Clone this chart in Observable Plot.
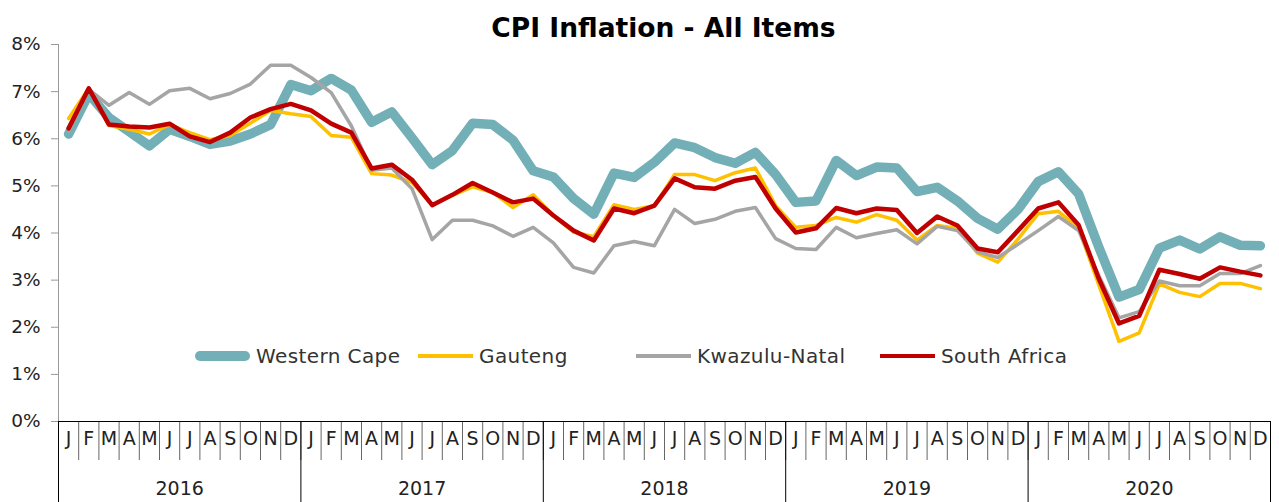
<!DOCTYPE html>
<html><head><meta charset="utf-8">
<script src="https://cdn.jsdelivr.net/npm/d3@7"></script>
<script src="https://cdn.jsdelivr.net/npm/@observablehq/plot@0.6"></script>
<style>
body{margin:0;background:#fff;}
#wrap{position:relative;width:1279px;height:502px;font-family:"DejaVu Sans",sans-serif;color:#222;}
#title{position:absolute;top:12px;left:24px;width:1279px;text-align:center;font-weight:bold;font-size:26.5px;line-height:32px;color:#000;}
#chart{position:absolute;top:0;left:0;}
.leg{position:absolute;top:343px;height:26px;display:flex;align-items:center;font-size:20px;letter-spacing:0.4px;color:#333;white-space:nowrap;}
.sw{display:inline-block;width:55px;margin-right:6px;}
</style></head><body>
<div id="wrap"><div id="chart"></div><div id="title">CPI Inflation - All Items</div></div>
<script>
const years = [2016, 2017, 2018, 2019, 2020];
const monthLetters = ["J","F","M","A","M","J","J","A","S","O","N","D"];
const yTicks = [0, 1, 2, 3, 4, 5, 6, 7, 8];

const seriesNames = ["Western Cape", "Gauteng", "Kwazulu-Natal", "South Africa"];
const seriesColors = ["#72AFB6", "#FFC000", "#A5A5A5", "#C00000"];
const seriesWidths = [9.5, 3.5, 3.5, 4.5];
const legendLeft = [195, 418, 636, 880];

const westernCape = [
  6.10, 6.95, 6.45, 6.15, 5.85, 6.20, 6.05, 5.88, 5.95, 6.10, 6.30, 7.15,
  7.02, 7.28, 7.03, 6.35, 6.57, 6.02, 5.45, 5.75, 6.33, 6.30, 5.97, 5.32,
  5.19, 4.73, 4.40, 5.27, 5.18, 5.50, 5.91, 5.81, 5.60, 5.48, 5.71, 5.24,
  4.65, 4.68, 5.54, 5.22, 5.40, 5.38, 4.88, 4.97, 4.68, 4.31, 4.08, 4.50,
  5.09, 5.30, 4.83, 3.70, 2.64, 2.80, 3.68, 3.85, 3.66, 3.92, 3.74, 3.73
];
const gauteng = [
  6.43, 7.07, 6.28, 6.20, 6.10, 6.30, 6.13, 5.98, 6.07, 6.33, 6.60, 6.53,
  6.47, 6.07, 6.03, 5.26, 5.23, 5.07, 4.60, 4.80, 4.98, 4.86, 4.54, 4.81,
  4.37, 4.02, 3.92, 4.60, 4.50, 4.58, 5.24, 5.24, 5.11, 5.28, 5.38, 4.58,
  4.12, 4.16, 4.33, 4.23, 4.39, 4.27, 3.85, 4.16, 4.10, 3.57, 3.38, 3.87,
  4.41, 4.46, 4.10, 2.90, 1.70, 1.88, 2.92, 2.74, 2.65, 2.93, 2.93, 2.82
];
const kwazuluNatal = [
  6.15, 7.05, 6.71, 6.98, 6.73, 7.02, 7.07, 6.85, 6.96, 7.16, 7.56, 7.56,
  7.30, 6.98, 6.27, 5.33, 5.38, 4.94, 3.86, 4.27, 4.27, 4.15, 3.93, 4.12,
  3.79, 3.27, 3.15, 3.73, 3.82, 3.73, 4.50, 4.20, 4.29, 4.46, 4.54, 3.88,
  3.67, 3.65, 4.12, 3.90, 3.99, 4.07, 3.77, 4.14, 4.05, 3.60, 3.48, 3.76,
  4.05, 4.35, 4.05, 3.10, 2.20, 2.33, 2.98, 2.88, 2.88, 3.14, 3.14, 3.31
];
const southAfrica = [
  6.22, 7.07, 6.30, 6.26, 6.24, 6.32, 6.05, 5.93, 6.13, 6.45, 6.63, 6.74,
  6.60, 6.32, 6.13, 5.37, 5.45, 5.13, 4.59, 4.81, 5.06, 4.86, 4.65, 4.73,
  4.37, 4.05, 3.84, 4.52, 4.42, 4.58, 5.16, 4.97, 4.94, 5.11, 5.19, 4.52,
  4.01, 4.10, 4.53, 4.42, 4.52, 4.49, 4.00, 4.35, 4.16, 3.67, 3.59, 4.05,
  4.52, 4.65, 4.17, 3.03, 2.08, 2.24, 3.22, 3.13, 3.03, 3.27, 3.18, 3.10
];
const seriesValues = [westernCape, gauteng, kwazuluNatal, southAfrica];

const nMonths = years.length * 12;
const idx = d3.range(nMonths);
const monthBounds = d3.range(nMonths + 1).map(i => i - 0.5);
const yearBounds = d3.range(years.length + 1).map(k => k * 12 - 0.5);
const yearCenters = years.map((y, k) => k * 12 + 5.5);

const lineMarks = seriesValues.map((vals, s) =>
  Plot.line(idx.map(i => ({i, v: vals[i]})), {
    x: "i", y: "v", stroke: seriesColors[s], strokeWidth: seriesWidths[s],
    strokeLinejoin: "round", strokeLinecap: "round"
  })
);

const chart = Plot.plot({
  width: 1279, height: 502,
  marginLeft: 58, marginRight: 9, marginTop: 44, marginBottom: 81,
  style: {fontFamily: "DejaVu Sans, sans-serif", background: "#fff", color: "#222"},
  x: {type: "linear", domain: [-0.5, nMonths - 0.5], axis: null},
  y: {domain: [0, 8], axis: null},
  marks: [
    Plot.axisY({ticks: yTicks, tickFormat: d => d + "%", tickSize: 7, tickPadding: 11, fontSize: 18.5, stroke: "#999", color: "#222", label: null}),
    Plot.ruleX([-0.5], {y1: 0, y2: 8, stroke: "#999"}),
    Plot.axisX({ticks: monthBounds, tickSize: 39, tickFormat: () => "", stroke: "#666", label: null}),
    Plot.axisX({ticks: yearBounds, tickSize: 81, tickFormat: () => "", stroke: "#000", label: null}),
    Plot.axisX({ticks: idx, tickSize: 0, tickPadding: 10, tickFormat: i => monthLetters[i % 12], fontSize: 19, label: null}),
    Plot.axisX({ticks: yearCenters, tickSize: 0, tickPadding: 60, tickFormat: c => String(years[Math.round((c - 5.5) / 12)]), fontSize: 19, label: null}),
    Plot.ruleY([0], {stroke: "#000"}),
    ...lineMarks
  ]
});
document.getElementById("chart").appendChild(chart);

const wrap = document.getElementById("wrap");
seriesNames.forEach((name, s) => {
  const d = document.createElement("div");
  d.className = "leg";
  d.style.left = legendLeft[s] + "px";
  const sw = document.createElement("span");
  sw.className = "sw";
  sw.style.height = seriesWidths[s] + "px";
  sw.style.background = seriesColors[s];
  if (s === 0) sw.style.borderRadius = "5px";
  d.appendChild(sw);
  d.appendChild(document.createTextNode(name));
  wrap.appendChild(d);
});
</script>
</body></html>
